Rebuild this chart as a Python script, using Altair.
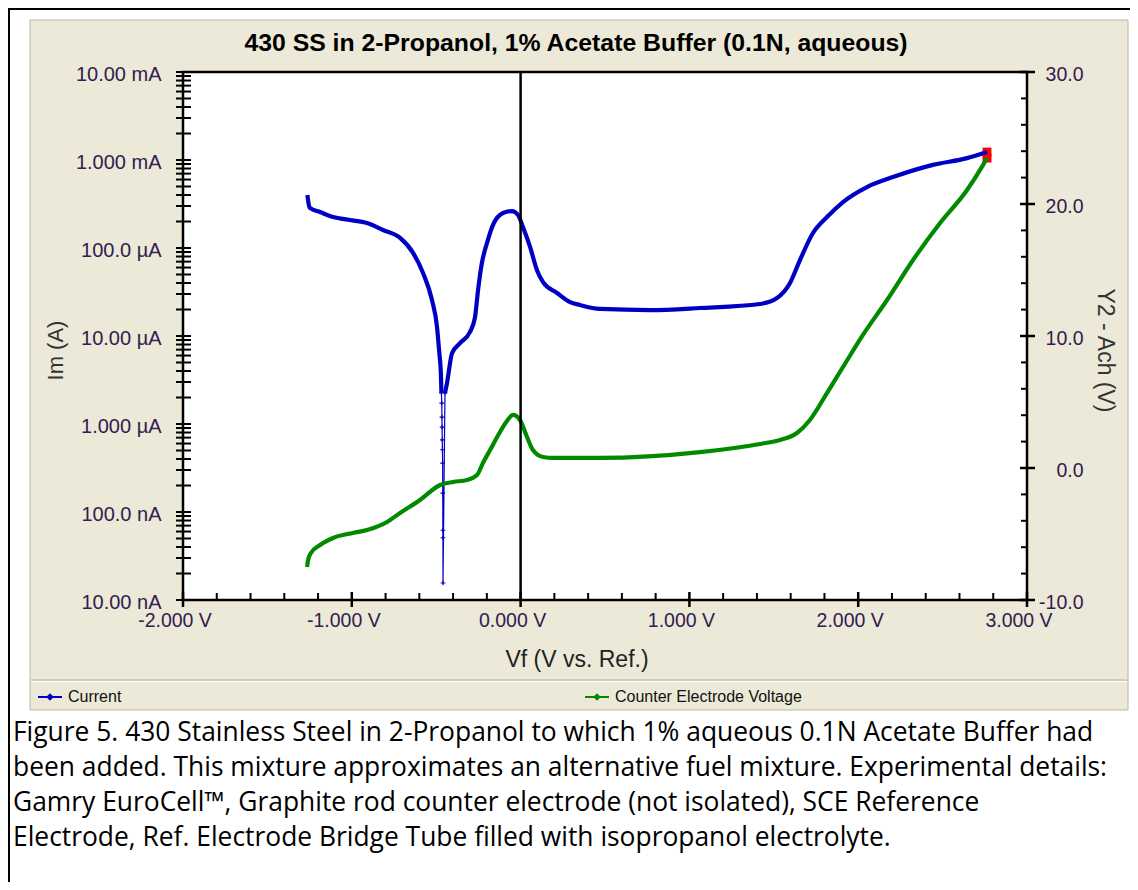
import altair as alt
import pandas as pd

# ---------------- data ----------------
# Current (A) vs Vf (V) - cathodic branch
cath_v = [-1.263, -1.256, -1.248, -1.188, -1.111, -1.011, -0.910, -0.815, -0.714, -0.637,
          -0.578, -0.525, -0.495, -0.483, -0.472, -0.469]
cath_i = [4.0e-4, 3.2e-4, 2.85e-4, 2.56e-4, 2.25e-4, 2.08e-4, 1.92e-4, 1.60e-4, 1.30e-4, 8.8e-5,
          5.2e-5, 2.56e-5, 1.26e-5, 6.9e-6, 3.6e-6, 2.25e-6]
# sparse points through the zero-current crossing
spike_v = [-0.469, -0.467, -0.466, -0.465, -0.464, -0.463, -0.462, -0.461, -0.4605, -0.460, -0.4597, -0.448]
spike_i = [2.25e-6, 1.73e-6, 1.20e-6, 9.2e-7, 6.6e-7, 5.1e-7, 3.6e-7, 1.64e-7, 6.2e-8, 5.1e-8, 1.56e-8, 2.25e-6]
# anodic branch
anod_v = [-0.448, -0.436, -0.406, -0.359, -0.300, -0.270, -0.252, -0.229, -0.199, -0.164,
          -0.104, -0.051, -0.015, 0.014, 0.056, 0.097, 0.133, 0.216, 0.293, 0.352,
          0.470, 0.767, 1.063, 1.418, 1.519, 1.596, 1.655, 1.732, 1.815, 1.910,
          2.052, 2.206, 2.443, 2.645, 2.763]
anod_i = [2.25e-6, 2.92e-6, 6.4e-6, 8.3e-6, 1.11e-5, 1.64e-5, 3.33e-5, 6.8e-5, 1.14e-4, 1.82e-4,
          2.50e-4, 2.63e-4, 2.37e-4, 1.73e-4, 1.03e-4, 5.6e-5, 4.1e-5, 3.08e-5, 2.43e-5, 2.25e-5,
          2.03e-5, 1.97e-5, 2.08e-5, 2.31e-5, 2.70e-5, 4.0e-5, 7.3e-5, 1.48e-4, 2.25e-4, 3.33e-4,
          4.93e-4, 6.4e-4, 8.8e-4, 1.05e-3, 1.23e-3]
# Counter electrode voltage (V, right axis)
ce_v = [-1.265, -1.259, -1.242, -1.188, -1.111, -0.993, -0.910, -0.791, -0.714, -0.596,
        -0.477, -0.400, -0.318, -0.258, -0.223, -0.181, -0.122, -0.081, -0.045, -0.004,
        0.038, 0.073, 0.133, 0.192, 0.352, 0.470, 1.063, 1.418, 1.537, 1.637,
        1.714, 1.815, 1.910, 2.028, 2.171, 2.325, 2.485, 2.645, 2.739, 2.763]
ce_y = [-7.5, -6.97, -6.44, -5.83, -5.30, -4.92, -4.70, -4.09, -3.41, -2.42,
        -1.29, -1.06, -0.91, -0.53, 0.38, 1.36, 2.73, 3.56, 4.02, 3.64,
        2.35, 1.36, 0.83, 0.76, 0.76, 0.76, 1.2, 1.82, 2.12, 2.65,
        3.64, 5.68, 7.65, 10.08, 12.73, 15.76, 18.56, 21.06, 22.95, 23.48]

title_text = "430 SS in 2-Propanol, 1% Acetate Buffer (0.1N, aqueous)"
x_title = "Vf (V vs. Ref.)"
x_ticks = [-2, -1, 0, 1, 2, 3]
x_labels = ["-2.000 V", "-1.000 V", "0.000 V", "1.000 V", "2.000 V", "3.000 V"]
y_exps = [-8, -7, -6, -5, -4, -3, -2]
y_labels = ["10.00 nA", "100.0 nA", "1.000 \u00b5A", "10.00 \u00b5A", "100.0 \u00b5A", "1.000 mA", "10.00 mA"]
y2_ticks = [-10, 0, 10, 20, 30]
y2_labels = ["-10.0", "0.0", "10.0", "20.0", "30.0"]
legend_names = ["Current", "Counter Electrode Voltage"]
caption = [
    "Figure 5. 430 Stainless Steel in 2-Propanol to which 1% aqueous 0.1N Acetate Buffer had",
    "been added. This mixture approximates an alternative fuel mixture. Experimental details:",
    "Gamry EuroCell\u2122, Graphite rod counter electrode (not isolated), SCE Reference",
    "Electrode, Ref. Electrode Bridge Tube filled with isopropanol electrolyte.",
]

BLUE = "#0000c4"
GREEN = "#008a00"
BEIGE = "#ECE9D8"
LABEL = "#30204f"
W, H = 844, 528
LF = "Liberation Sans"


def ternary(key, keys, labels):
    s = "''"
    for k, l in reversed(list(zip(keys, labels))):
        s = f"({key} == {k}) ? '{l}' : {s}"
    return s


blue_df = pd.DataFrame(
    {"V": cath_v + anod_v, "I": cath_i + anod_i,
     "seg": ["c"] * len(cath_v) + ["a"] * len(anod_v),
     "k": list(range(len(cath_v) + len(anod_v)))})
spike_df = pd.DataFrame({"V": spike_v, "I": spike_i, "k": list(range(len(spike_v)))})
green_df = pd.DataFrame({"V": ce_v, "Y": ce_y})
end_blue = pd.DataFrame({"V": [anod_v[-1]], "I": [anod_i[-1]]})
end_green = pd.DataFrame({"V": [ce_v[-1]], "Y": [ce_y[-1]]})
xlab_df = pd.DataFrame({"t": x_ticks, "lab": x_labels})

dec_major = [10.0 ** e for e in y_exps]
log_ticks = [k * 10.0 ** e for e in range(-8, -2) for k in range(1, 10)] + [1e-2]
x_minor = [round(-2 + 0.2 * i, 1) for i in range(26) if i % 5 != 0]
y2_minor = [v for v in range(-10, 31, 2) if v % 10 != 0]


def xs():
    return alt.Scale(domain=[-2, 3], nice=False, zero=False)


def ys_log():
    return alt.Scale(type="log", domain=[1e-8, 1e-2], nice=False)


def ys_lin():
    return alt.Scale(domain=[-10, 30], nice=False, zero=False)


one = alt.Data(values=[{"a": 1}])

# ---------- decoration: panel, border, frame ----------
beige = alt.Chart(one).mark_rect(fill=BEIGE, stroke="#b9b6a9", strokeWidth=1).encode(
    x=alt.value(-153), x2=alt.value(945), y=alt.value(-52), y2=alt.value(638))
sep1 = alt.Chart(one).mark_rule(color="#c4c1b4", strokeWidth=1.5).encode(
    x=alt.value(-152), x2=alt.value(944), y=alt.value(608))
sep2 = alt.Chart(one).mark_rule(color="#ffffff", strokeWidth=1).encode(
    x=alt.value(-152), x2=alt.value(944), y=alt.value(609.5))
border_top = alt.Chart(one).mark_rule(color="black", strokeWidth=2).encode(
    x=alt.value(-175), x2=alt.value(960), y=alt.value(-63))
border_left = alt.Chart(one).mark_rule(color="black", strokeWidth=2).encode(
    x=alt.value(-174), y=alt.value(-64), y2=alt.value(830))
frame = alt.Chart(one).mark_rect(fill="white", stroke="black", strokeWidth=2.5).encode(
    x=alt.value(0), x2=alt.value(W), y=alt.value(0), y2=alt.value(H))

title = alt.Chart(one).mark_text(text=title_text, font=LF, fontSize=24.8, fontWeight="bold",
                                 color="black", baseline="middle", align="center").encode(
    x=alt.value(393), y=alt.value(-28))

cap_layers = [
    alt.Chart(one).mark_text(text=line, font="Open Sans", fontSize=26.4, color="black",
                             align="left", baseline="alphabetic").encode(
        x=alt.value(-170), y=alt.value(669 + 35 * i))
    for i, line in enumerate(caption)
]

leg = []
for name, col, x0 in [(legend_names[0], BLUE, -145), (legend_names[1], GREEN, 402)]:
    leg.append(alt.Chart(one).mark_rule(color=col, strokeWidth=2).encode(
        x=alt.value(x0), x2=alt.value(x0 + 24), y=alt.value(625)))
    leg.append(alt.Chart(one).mark_point(shape="diamond", filled=True, color=col, size=60, opacity=1).encode(
        x=alt.value(x0 + 12), y=alt.value(625)))
    leg.append(alt.Chart(one).mark_text(text=name, font=LF, fontSize=16, color="#111",
                                        align="left", baseline="middle").encode(
        x=alt.value(x0 + 30), y=alt.value(625)))

# ---------- axes ----------
yaxis = alt.Axis(orient="left", values=dec_major,
                 labelExpr=ternary("round(log(datum.value)/LN10)", y_exps, y_labels),
                 ticks=False, tickSize=0, domain=False, grid=False, labelPadding=22,
                 labelBaseline="middle", labelOffset=2, labelFont=LF, labelFontSize=20,
                 labelColor=LABEL, title="Im (A)", titleX=-128, titleY=278, titleAngle=-90,
                 titleAlign="center", titleBaseline="middle", titleFont=LF, titleFontSize=22,
                 titleFontWeight="normal", titleColor="#333", zindex=1, labelFlush=False)
y2axis = alt.Axis(orient="right", values=y2_ticks, labelExpr=ternary("datum.value", y2_ticks, y2_labels),
                  ticks=False, tickSize=0, domain=False, grid=False, labelPadding=56,
                  labelAlign="right", labelBaseline="middle", labelOffset=2, labelFont=LF,
                  labelFontSize=19.5, labelColor=LABEL, title="Y2 - Ach (V)", titleX=77, titleY=278,
                  titleAngle=90, titleAlign="center", titleBaseline="middle", titleFont=LF,
                  titleFontSize=23, titleFontWeight="normal", titleColor="#333", zindex=1,
                  labelFlush=False)

# x axis labels and title drawn through the x scale
x_lab = alt.Chart(xlab_df).mark_text(font=LF, fontSize=19.5, color=LABEL, align="center",
                                     baseline="middle", dx=-8).encode(
    x=alt.X("t:Q", scale=xs(), axis=None), y=alt.value(H + 21), text="lab:N")
x_tit = alt.Chart(one).mark_text(text=x_title, font=LF, fontSize=23, color="#222",
                                 align="center", baseline="middle").encode(
    x=alt.value(394), y=alt.value(H + 60))

# ---------- data marks ----------
blue_main = alt.Chart(blue_df).mark_line(color=BLUE, strokeWidth=4.2, interpolate="monotone").encode(
    x=alt.X("V:Q", scale=xs(), axis=None),
    y=alt.Y("I:Q", scale=ys_log(), axis=yaxis),
    detail="seg:N", order="k:Q")
blue_spike = alt.Chart(spike_df).mark_line(color=BLUE, strokeWidth=1.2).encode(
    x=alt.X("V:Q", scale=xs(), axis=None), y=alt.Y("I:Q", scale=ys_log(), axis=None), order="k:Q")
blue_spike_pts = alt.Chart(spike_df).mark_point(
    shape="M-1,0L1,0M0,-1L0,1", filled=False, color=BLUE, strokeWidth=1.2, size=22, opacity=1).encode(
    x=alt.X("V:Q", scale=xs(), axis=None), y=alt.Y("I:Q", scale=ys_log(), axis=None))
blue_end = alt.Chart(end_blue).mark_square(color="red", size=80, opacity=1).encode(
    x=alt.X("V:Q", scale=xs(), axis=None), y=alt.Y("I:Q", scale=ys_log(), axis=None))

left_ticks = alt.Chart(pd.DataFrame({"t": log_ticks})).mark_rule(color="black", strokeWidth=2).encode(
    y=alt.Y("t:Q", scale=ys_log(), axis=None), x=alt.value(-7), x2=alt.value(8))
xmaj = alt.Chart(pd.DataFrame({"t": x_ticks})).mark_rule(color="black", strokeWidth=2.5).encode(
    x=alt.X("t:Q", scale=xs(), axis=None), y=alt.value(H - 8), y2=alt.value(H + 7))
xmin = alt.Chart(pd.DataFrame({"t": x_minor})).mark_rule(color="black", strokeWidth=2).encode(
    x=alt.X("t:Q", scale=xs(), axis=None), y=alt.value(H - 7), y2=alt.value(H))
zero_line = alt.Chart(pd.DataFrame({"t": [0]})).mark_rule(color="black", strokeWidth=2.5).encode(
    x=alt.X("t:Q", scale=xs(), axis=None), y=alt.value(0), y2=alt.value(H))

green_end = alt.Chart(end_green).mark_square(color="red", size=80, opacity=1).encode(
    x=alt.X("V:Q", scale=xs(), axis=None), y=alt.Y("Y:Q", scale=ys_lin(), axis=None))
green_line = alt.Chart(green_df).mark_line(color=GREEN, strokeWidth=4.2, interpolate="monotone").encode(
    x=alt.X("V:Q", scale=xs(), axis=None), y=alt.Y("Y:Q", scale=ys_lin(), axis=y2axis))
r_major = alt.Chart(pd.DataFrame({"t": y2_ticks})).mark_rule(color="black", strokeWidth=2.5).encode(
    y=alt.Y("t:Q", scale=ys_lin(), axis=None), x=alt.value(W - 7), x2=alt.value(W + 8))
r_minor = alt.Chart(pd.DataFrame({"t": y2_minor})).mark_rule(color="black", strokeWidth=2).encode(
    y=alt.Y("t:Q", scale=ys_lin(), axis=None), x=alt.value(W - 6), x2=alt.value(W))

chart = alt.layer(
    beige, sep1, sep2, border_top, border_left, frame,
    left_ticks, xmaj, xmin, r_major, r_minor,
    blue_end, green_end, blue_spike, blue_spike_pts, blue_main, green_line, zero_line,
    x_lab, x_tit, title, *cap_layers, *leg,
).resolve_scale(y="independent").properties(
    width=W, height=H,
    autosize=alt.AutoSizeParams(type="none"),
    padding={"left": 175, "top": 64, "right": 103, "bottom": 282},
    background="white",
).configure_view(stroke=None)

chart.save("out.html", embed_options={"renderer": "svg", "actions": False})
